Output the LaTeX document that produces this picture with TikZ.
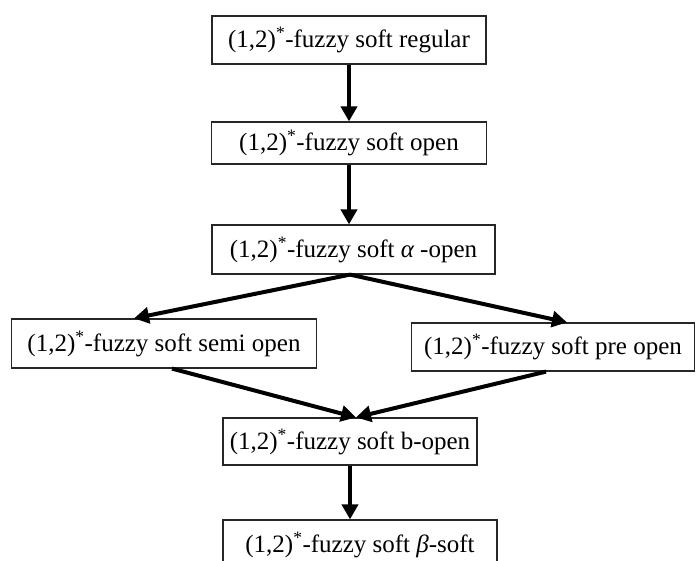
\documentclass[tikz,border=0pt]{standalone}
\usepackage{fontspec}
\setmainfont{Liberation Serif}
\usetikzlibrary{arrows.meta}
\begin{document}
\begin{tikzpicture}[x=1pt,y=-1pt,
  box/.style={draw=black!85, line width=1.2pt, inner sep=0pt,
    font=\fontsize{25}{30}\selectfont},
  link/.style={line width=4pt, -{Triangle[length=15pt,width=16pt]}}]
\useasboundingbox[fill=white] (0,0) rectangle (696,561);
\newcommand{\ot}{(1,2)\textsuperscript{*}-fuzzy soft}
% implication chain of (1,2)*-fuzzy soft set classes
\node[box, minimum width=274pt, minimum height=48pt] (b1) at (349,40) {\ot{} regular};
\node[box, minimum width=275pt, minimum height=42pt] (b2) at (349,143) {\ot{} open};
\node[box, minimum width=283pt, minimum height=49pt] (b3) at (353.5,249.5) {\ot{} {\itshape α} -open};
\node[box, minimum width=305pt, minimum height=49pt] (b4) at (164,343.5) {\ot{} semi open};
\node[box, minimum width=283pt, minimum height=48pt] (b5) at (553,347) {\ot{} pre open};
\node[box, minimum width=254pt, minimum height=47pt] (b6) at (350,441.5) {\ot{} b-open};
\node[box, minimum width=274pt, minimum height=50pt] (b7) at (360,545) {\ot{} {\itshape β}-soft};
\draw[link] (b1.south) -- (b1.south |- b2.north);
\draw[link] (b2.south) -- (b2.south |- b3.north);
\draw[link] ([xshift=-3.5pt]b3.south) -- ([xshift=-30pt]b4.north);
\draw[link] ([xshift=-3.5pt]b3.south) -- ([xshift=14pt]b5.north);
\draw[link] ([xshift=8pt]b4.south) -- ([xshift=6pt]b6.north);
\draw[link] ([xshift=-7pt]b5.south) -- ([xshift=6pt]b6.north);
\draw[link] (b6.south) -- (b6.south |- b7.north);
\end{tikzpicture}
\end{document}
